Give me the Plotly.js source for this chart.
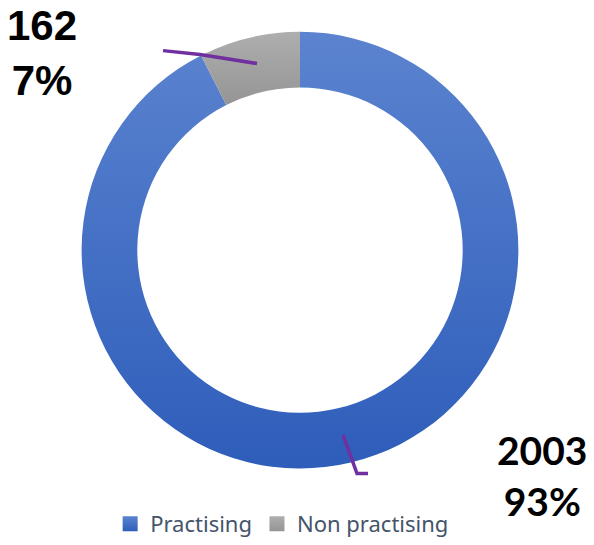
<!DOCTYPE html>
<html>
<head>
<meta charset="utf-8">
<script src="https://cdn.plot.ly/plotly-3.0.1.min.js"></script>
<style>html,body{margin:0;padding:0;background:#fff;}#chart{width:594px;height:545px;}</style>
</head>
<body>
<div id="chart"></div>
<script>
const categories = ["Practising", "Non practising"];
const values = [2003, 162];
const colors = ["#4470C7", "#A3A3A3"];
const gradTop = ["#5B83CF", "#AEAEAE"];
const gradBottom = ["#2E5DBA", "#959595"];

const total = values.reduce((a, b) => a + b, 0);
const pct = values.map(v => Math.round(100 * v / total) + "%");

const data = [{
  type: "pie",
  labels: categories,
  values: values,
  hole: 0.745,
  sort: false,
  direction: "clockwise",
  rotation: 0,
  textinfo: "none",
  hoverinfo: "label+value+percent",
  marker: { colors: colors, line: { width: 0 } },
  domain: { x: [80 / 594, 520 / 594], y: [1 - 472 / 545, 1 - 32 / 545] },
  showlegend: true
}];

const layout = {
  width: 594,
  height: 545,
  margin: { l: 0, r: 0, t: 0, b: 0 },
  paper_bgcolor: "#ffffff",
  showlegend: true,
  legend: {
    orientation: "h",
    x: 0.475, xanchor: "center",
    y: 1 - 528 / 545, yanchor: "middle",
    font: { family: "'Noto Sans', 'Open Sans', sans-serif", size: 22, color: "#44546A" },
    itemwidth: 30,
    traceorder: "normal"
  },
  annotations: [
    {
      xref: "paper", yref: "paper",
      x: 542 / 594, y: 1 - 479 / 545,
      xanchor: "center", yanchor: "middle",
      text: "<b>" + values[0] + "<br>" + pct[0] + "</b>",
      showarrow: false, align: "center",
      font: { family: "Lato, 'Liberation Sans', sans-serif", size: 39, color: "#000" }
    },
    {
      xref: "paper", yref: "paper",
      x: 42 / 594, y: 1 - 53 / 545,
      xanchor: "center", yanchor: "middle",
      text: "<b>" + values[1] + "<br>" + pct[1] + "</b>",
      showarrow: false, align: "center",
      font: { family: "'Liberation Sans', Arial, sans-serif", size: 42, color: "#000" }
    }
  ],
  shapes: [
    {
      type: "path", xref: "paper", yref: "paper",
      path: "M" + (343 / 594) + "," + (1 - 438 / 545) + " L" + (357 / 594) + "," + (1 - 477 / 545) + " L" + (368 / 594) + "," + (1 - 477 / 545),
      line: { color: "#7030A0", width: 3.5 }
    },
    {
      type: "path", xref: "paper", yref: "paper",
      path: "M" + (163 / 594) + "," + (1 - 51 / 545) + " L" + (200 / 594) + "," + (1 - 55 / 545) + " L" + (257 / 594) + "," + (1 - 64 / 545),
      line: { color: "#7030A0", width: 3.5 }
    }
  ]
};

Plotly.newPlot("chart", data, layout, { displayModeBar: false, staticPlot: true }).then(gd => {
  const NS = "http://www.w3.org/2000/svg";
  const svg = gd.querySelector(".main-svg");
  const defs = document.createElementNS(NS, "defs");
  categories.forEach((c, i) => {
    const lg = document.createElementNS(NS, "linearGradient");
    lg.setAttribute("id", "sliceGrad" + i);
    lg.setAttribute("x1", "0"); lg.setAttribute("y1", "0");
    lg.setAttribute("x2", "0"); lg.setAttribute("y2", "1");
    [[0, gradTop[i]], [1, gradBottom[i]]].forEach(([o, col]) => {
      const st = document.createElementNS(NS, "stop");
      st.setAttribute("offset", o);
      st.setAttribute("stop-color", col);
      lg.appendChild(st);
    });
    defs.appendChild(lg);
  });
  svg.insertBefore(defs, svg.firstChild);
  gd.querySelectorAll(".pielayer g.slice").forEach((g, i) => {
    const p = g.querySelector("path.surface");
    if (p) p.style.fill = "url(#sliceGrad" + i + ")";
  });
  gd.querySelectorAll(".legend .traces").forEach((t, i) => {
    const p = t.querySelector("path.legendpie");
    if (p) {
      p.setAttribute("d", "M7.5,7.5H-7.5V-7.5H7.5Z");
      p.style.fill = "url(#sliceGrad" + i + ")";
    }
  });
});
</script>
</body>
</html>
